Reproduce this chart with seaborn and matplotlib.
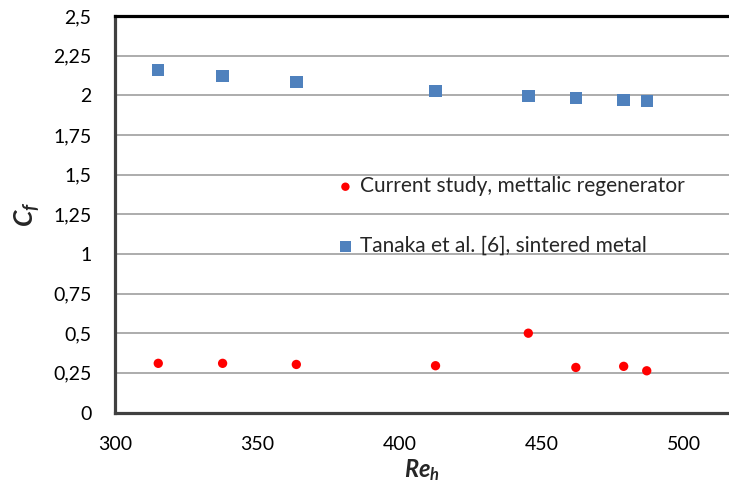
import matplotlib
matplotlib.use("Agg")
import matplotlib.pyplot as plt
import seaborn as sns
import pandas as pd
from matplotlib.ticker import FuncFormatter

re_h = [315.2, 337.8, 363.7, 412.6, 445.2, 461.9, 478.7, 486.8]
cf_current = [0.310, 0.310, 0.303, 0.295, 0.500, 0.284, 0.291, 0.263]
cf_tanaka = [2.158, 2.121, 2.083, 2.027, 1.996, 1.983, 1.971, 1.965]
series_names = ["Current study, mettalic regenerator", "Tanaka et al. [6], sintered metal"]
x_ticks = [300, 350, 400, 450, 500]
y_ticks = [0, 0.25, 0.5, 0.75, 1, 1.25, 1.5, 1.75, 2, 2.25, 2.5]

df = pd.DataFrame({
    "Re": re_h + re_h,
    "Cf": cf_current + cf_tanaka,
    "series": [series_names[0]] * len(re_h) + [series_names[1]] * len(re_h),
})

sns.set_theme(style="white")
plt.rcParams["font.family"] = ["Lato", "DejaVu Sans"]
plt.rcParams["mathtext.fontset"] = "custom"
plt.rcParams["mathtext.it"] = "Lato:bold:italic"
plt.rcParams["mathtext.rm"] = "Lato:bold:italic"
plt.rcParams["mathtext.bf"] = "Lato:bold:italic"

fig = plt.figure(figsize=(7.29, 4.88), dpi=100)
ax = fig.add_axes([115 / 729, 1 - 412.5 / 488, (729 - 115) / 729, (412.5 - 16) / 488])

for name, marker, color, size in [(series_names[0], "o", "#ff0000", 45),
                                  (series_names[1], "s", "#4f81bd", 80)]:
    sub = df[df["series"] == name]
    sns.scatterplot(data=sub, x="Re", y="Cf", ax=ax, marker=marker, color=color,
                    s=size, edgecolor="none", label=name, zorder=3)

ax.set_xlim(300, 515.7)
ax.set_ylim(0, 2.5)
ax.set_xticks(x_ticks)
ax.set_yticks(y_ticks)
ax.yaxis.set_major_formatter(FuncFormatter(lambda v, p: ("%g" % v).replace(".", ",")))
ax.tick_params(axis="both", length=0, labelsize=14, pad=17, colors="black")
ax.grid(axis="y", color="#a6a6a6", linewidth=1.3)
ax.set_axisbelow(True)

for side in ["left", "bottom"]:
    ax.spines[side].set_color("#404040")
    ax.spines[side].set_linewidth(2.3)
ax.spines["top"].set_color("black")
ax.spines["top"].set_linewidth(2.3)
ax.spines["right"].set_visible(False)

ax.set_xlabel(r"$Re_h$", fontsize=17, labelpad=3)
ax.set_ylabel(r"$C_f$", fontsize=19, labelpad=8)

leg = ax.legend(loc="upper left", bbox_to_anchor=(0.36, 0.596), frameon=False,
                fontsize=15, handlelength=0.9, handletextpad=0.25, labelspacing=1.9,
                borderpad=0, borderaxespad=0, markerscale=0.9)

fig.savefig("out.png", dpi=100)
